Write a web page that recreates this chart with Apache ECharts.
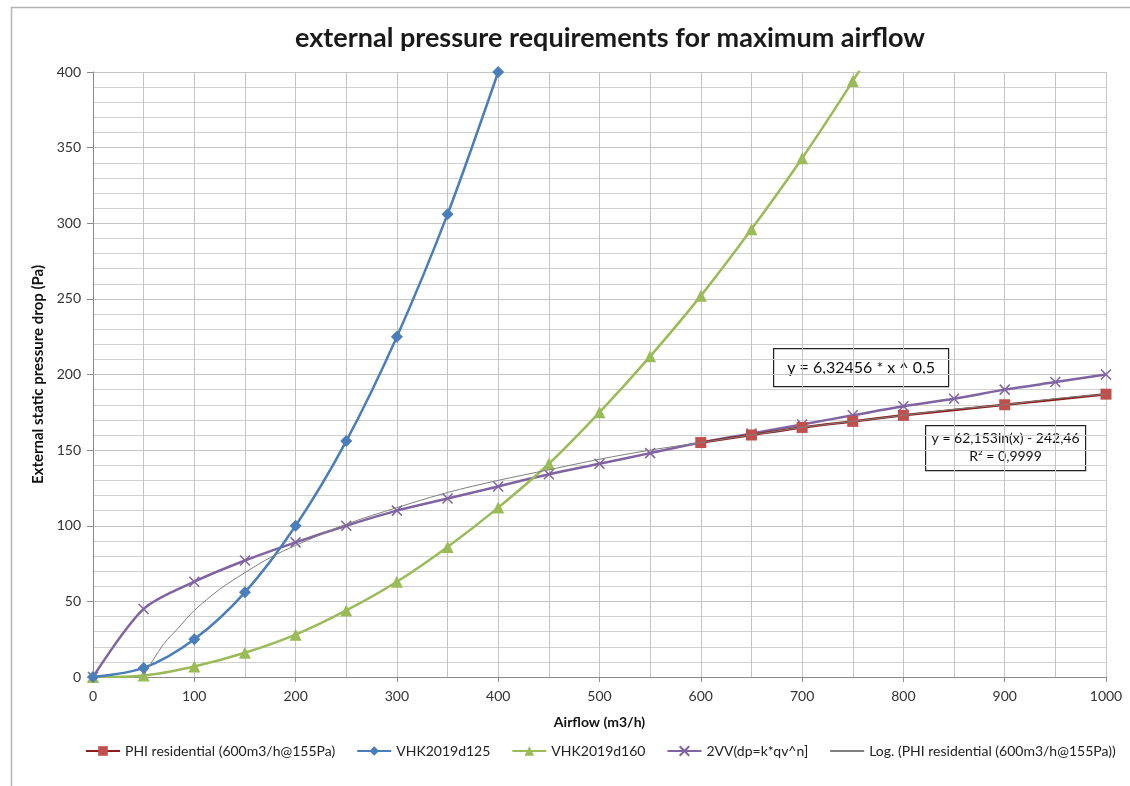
<!DOCTYPE html>
<html>
<head>
<meta charset="utf-8">
<script src="https://cdn.jsdelivr.net/npm/echarts@6/dist/echarts.min.js"></script>
<style>
html,body{margin:0;padding:0;background:#fff;}
#c{width:1130px;height:786px;}
</style>
</head>
<body>
<div id="c"></div>
<script>
// ---- data ----
var titleText = 'external pressure requirements for maximum airflow';
var xName = 'Airflow (m3/h)';
var yName = 'External static pressure drop (Pa)';
var seriesNames = ['PHI residential (600m3/h@155Pa)', 'VHK2019d125', 'VHK2019d160', '2VV(dp=k*qv^n]', 'Log. (PHI residential (600m3/h@155Pa))'];

var phiX = [600, 650, 700, 750, 800, 900, 1000];
var phiY = [155, 160, 165, 169, 173, 180, 187];

var d125X = [0, 50, 100, 150, 200, 250, 300, 350, 400];
var d125Y = [0, 6, 25, 56, 100, 156, 225, 306, 400];

var d160X = [0, 50, 100, 150, 200, 250, 300, 350, 400, 450, 500, 550, 600, 650, 700, 750, 800];
var d160Y = [0, 1, 7, 16, 28, 44, 63, 86, 112, 141, 175, 212, 252, 296, 343, 394, 448];

var vvX = [0, 50, 100, 150, 200, 250, 300, 350, 400, 450, 500, 550, 600, 650, 700, 750, 800, 850, 900, 950, 1000];
var vvY = [0, 45, 63, 77, 89, 100, 110, 118, 126, 134, 141, 148, 155, 161, 167, 173, 179, 184, 190, 195, 200];

var logX = [50, 60, 70, 85, 100, 125, 150, 175, 200, 250, 300, 350, 400, 450, 500, 550, 600, 650, 700, 750, 800, 850, 900, 950, 1000];
var logY = [1, 12, 22, 33, 44, 58, 69, 79, 87, 101, 112, 122, 130, 137, 144, 150, 155, 160, 165, 169, 173, 177, 180, 184, 187];

var eq1 = 'y = 6,32456 * x ^ 0,5';
var eq2 = ['y = 62,153ln(x) - 242,46', 'R² = 0,9999'];

function pairs(xs, ys){ return xs.map(function(x,i){ return [x, ys[i]]; }); }

var FONT = 'Lato, "Open Sans", sans-serif';
var chart = echarts.init(document.getElementById('c'), null, {renderer:'canvas'});
var crossPath = 'path://M0,0L10,10M10,0L0,10';

chart.setOption({
  animation: false,
  backgroundColor: '#ffffff',
  textStyle: {fontFamily: FONT},
  title: {
    text: titleText, left: 290, top: 20,
    textStyle: {fontFamily: FONT, fontSize: 27, fontWeight: 'bold', color: '#1a1a1a'}
  },
  grid: {left: 93, right: 24, top: 72, bottom: 109, containLabel: false},
  legend: {
    bottom: 23, left: 80, width: 1048, itemWidth: 34, itemHeight: 12, itemGap: 21,
    textStyle: {fontFamily: FONT, fontSize: 14, color: '#222'},
    data: [
      {name: seriesNames[0]},
      {name: seriesNames[1]},
      {name: seriesNames[2]},
      {name: seriesNames[3]},
      {name: seriesNames[4], itemStyle: {opacity: 0}}
    ]
  },
  xAxis: {
    type: 'value', min: 0, max: 1000, interval: 100,
    name: xName, nameLocation: 'middle', nameGap: 38,
    nameTextStyle: {fontFamily: FONT, fontSize: 14, fontWeight: 'bold', color: '#111'},
    axisLine: {show: true, lineStyle: {color: '#8a8a8a', width: 1}},
    axisTick: {show: true, length: 5, lineStyle: {color: '#8a8a8a'}},
    axisLabel: {margin: 12, fontSize: 14, color: '#333', fontFamily: FONT,
      formatter: function(v){ return String(v); }},
    splitLine: {show: true, lineStyle: {color: '#c4c4c4', width: 1}},
    minorTick: {show: false, splitNumber: 2},
    minorSplitLine: {show: true, lineStyle: {color: '#c4c4c4', width: 1}}
  },
  yAxis: {
    type: 'value', min: 0, max: 400, interval: 50,
    name: yName, nameLocation: 'middle', nameGap: 42, nameRotate: 90,
    nameTextStyle: {fontFamily: FONT, fontSize: 15, fontWeight: 'bold', color: '#111'},
    axisLine: {show: true, lineStyle: {color: '#8a8a8a', width: 1}},
    axisTick: {show: true, length: 6, lineStyle: {color: '#8a8a8a'}},
    axisLabel: {margin: 12, fontSize: 14, color: '#333', fontFamily: FONT},
    splitLine: {show: true, lineStyle: {color: '#c4c4c4', width: 1}},
    minorTick: {show: false, splitNumber: 5},
    minorSplitLine: {show: true, lineStyle: {color: '#d0d0d0', width: 1}}
  },
  series: [
    {
      name: seriesNames[0], type: 'line', data: pairs(phiX, phiY), smooth: 0.3,
      symbol: 'rect', symbolSize: 11, z: 5,
      itemStyle: {color: '#c0504d'},
      lineStyle: {color: '#8b1e1a', width: 2.5}
    },
    {
      name: seriesNames[1], type: 'line', data: pairs(d125X, d125Y), smooth: 0.3,
      symbol: 'diamond', symbolSize: 12, z: 4,
      itemStyle: {color: '#4a7ebb'},
      lineStyle: {color: '#4a7ebb', width: 2.5}
    },
    {
      name: seriesNames[2], type: 'line', data: pairs(d160X, d160Y), smooth: 0.3,
      symbol: 'triangle', symbolSize: 12, z: 3,
      itemStyle: {color: '#9bbb59'},
      lineStyle: {color: '#9bbb59', width: 2.5}
    },
    {
      name: seriesNames[3], type: 'line', data: pairs(vvX, vvY), smooth: 0.3,
      symbol: crossPath, symbolSize: 10, z: 2,
      itemStyle: {color: '#8064a2', borderColor: '#8064a2', borderWidth: 1.5},
      lineStyle: {color: '#8064a2', width: 2.5}
    },
    {
      name: seriesNames[4], type: 'line', data: pairs(logX, logY), smooth: 0.3,
      symbol: 'none', showSymbol: false, z: 6,
      itemStyle: {color: '#7f7f7f'},
      lineStyle: {color: '#7f7f7f', width: 1}
    }
  ],
  graphic: [
    {type: 'rect', left: 9, top: 5, z: -10, silent: true,
     shape: {width: 1200, height: 900}, style: {fill: 'none', stroke: '#b4b4b4', lineWidth: 1.5}},
    {type: 'group', left: 773, top: 348, z: 100, children: [
      {type: 'rect', shape: {x: 0, y: 0, width: 175, height: 38},
       style: {fill: '#fff', stroke: '#222', lineWidth: 1.2}},
      {type: 'text', x: 87.5, y: 19,
       style: {text: eq1, fill: '#111', font: '16px ' + FONT, textAlign: 'center', textVerticalAlign: 'middle'}}
    ]},
    {type: 'group', left: 925, top: 425, z: 100, children: [
      {type: 'rect', shape: {x: 0, y: 0, width: 160, height: 45},
       style: {fill: '#fff', stroke: '#222', lineWidth: 1.2}},
      {type: 'text', x: 80, y: 13,
       style: {text: eq2[0], fill: '#111', font: '14px ' + FONT, textAlign: 'center', textVerticalAlign: 'middle'}},
      {type: 'text', x: 80, y: 31,
       style: {text: eq2[1], fill: '#111', font: '14px ' + FONT, textAlign: 'center', textVerticalAlign: 'middle'}}
    ]}
  ]
});
</script>
</body>
</html>
